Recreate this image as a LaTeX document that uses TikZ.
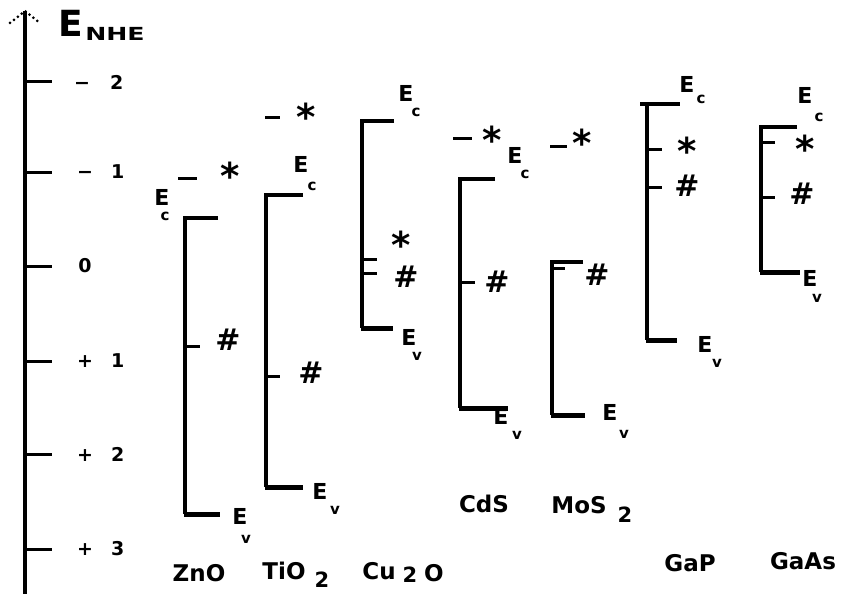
\documentclass[tikz,border=0pt]{standalone}
\usepackage{fontspec}
\setmainfont{DejaVu Sans}
\newcommand{\fsz}[1]{\fontsize{#1}{#1}\selectfont}
\tikzset{
  txt/.style={inner sep=0pt, font=\bfseries\fsz{22}},
  bigtxt/.style={txt, font=\bfseries\fsz{36}},
  ticklbl/.style={txt, font=\bfseries\fsz{19}},
  subtxt/.style={txt, font=\bfseries\fsz{15}},
  matname/.style={txt, font=\bfseries\fsz{23}},
  matsub/.style={txt, font=\bfseries\fsz{21}},
  startxt/.style={txt, font=\bfseries\fsz{37}},
  hashtxt/.style={txt, font=\bfseries\fsz{30}},
  axisline/.style={line width=3.5pt},
  bandline/.style={line width=3.3pt, line join=miter},
  evline/.style={line width=5pt},
  lvl/.style={line width=3pt},
  dotarrow/.style={line width=3pt, line cap=round, dash pattern=on 0pt off 5pt}
}
\begin{document}
\begin{tikzpicture}[x=1pt,y=-1pt]
\useasboundingbox (0,0) rectangle (841,594);
% axis
\coordinate (axb) at (25,594);
\coordinate (axt) at (25,11);
\coordinate (al) at (10,23);
\coordinate (ar) at (40,23);
\draw[axisline] (axb) -- (axt);
\draw[dotarrow] (al) -- (axt) -- (ar);
\node[bigtxt] (E) at (71,23) {E};
\node[txt, font=\bfseries\fsz{18}] (nhe) at (115,34) {\scalebox{1.4}[1]{NHE}};
% ticks
\foreach \n/\y in {m2/82, m1/172, z/266, p1/361, p2/454, p3/549}{
  \coordinate (t\n a) at (25,\y);
  \coordinate (t\n b) at (52,\y);
  \draw[lvl] (t\n a) -- (t\n b);
}
\node[ticklbl, anchor=west] (lm2) at (74,82) {−\kern 20pt 2};
\node[ticklbl, anchor=west] (lm1) at (77,172) {−\kern 18pt 1};
\node[ticklbl] (lz) at (85,266) {0};
\node[ticklbl, anchor=west] (lp1) at (77,361) {+\kern 18pt 1};
\node[ticklbl, anchor=west] (lp2) at (77,454) {+\kern 18pt 2};
\node[ticklbl, anchor=west] (lp3) at (77,549) {+\kern 18pt 3};

% ---------- ZnO
\coordinate (a1) at (218,218); \coordinate (a2) at (185,218);
\coordinate (a3) at (185,514); \coordinate (a4) at (220,514);
\coordinate (a5) at (184,514);
\draw[bandline] (a1) -- (a2) -- (a3);
\draw[evline] (a5) -- (a4);
\coordinate (ad1) at (178,178); \coordinate (ad2) at (197,178);
\draw[lvl] (ad1) -- (ad2);
\node[startxt] (as) at (230,176) {*};
\coordinate (ah1) at (185,346); \coordinate (ah2) at (200,346);
\draw[lvl] (ah1) -- (ah2);
\node[hashtxt] (ah) at (228,340) {\#};
\node[txt] (aEc) at (162,197) {E}; \node[subtxt] (aEcs) at (165,216) {c};
\node[txt] (aEv) at (240,516) {E}; \node[subtxt] (aEvs) at (246,539) {v};
\node[matname] (aname) at (199,573) {ZnO};

% ---------- TiO2
\coordinate (b1) at (303,195); \coordinate (b2) at (266,195);
\coordinate (b3) at (266,487); \coordinate (b4) at (303,487);
\coordinate (b5) at (265,487);
\draw[bandline] (b1) -- (b2) -- (b3);
\draw[evline] (b5) -- (b4);
\coordinate (bd1) at (265,117); \coordinate (bd2) at (280,117);
\draw[lvl] (bd1) -- (bd2);
\node[startxt] (bs) at (306,117) {*};
\coordinate (bh1) at (266,376); \coordinate (bh2) at (280,376);
\draw[lvl] (bh1) -- (bh2);
\node[hashtxt] (bh) at (311,373) {\#};
\node[txt] (bEc) at (301,164) {E}; \node[subtxt] (bEcs) at (312,186) {c};
\node[txt] (bEv) at (320,491) {E}; \node[subtxt] (bEvs) at (335,510) {v};
\node[matname] (bname) at (284,571) {TiO};
\node[matsub] (bname2) at (322,580) {2};

% ---------- Cu2O
\coordinate (c1) at (394,121); \coordinate (c2) at (362,121);
\coordinate (c3) at (362,328); \coordinate (c4) at (393,328);
\coordinate (c5) at (361,328);
\draw[bandline] (c1) -- (c2) -- (c3);
\draw[evline] (c5) -- (c4);
\coordinate (cs1) at (362,259); \coordinate (cs2) at (377,259);
\draw[lvl] (cs1) -- (cs2);
\node[startxt] (cs) at (401,245) {*};
\coordinate (ch1) at (362,273); \coordinate (ch2) at (377,273);
\draw[lvl] (ch1) -- (ch2);
\node[hashtxt] (ch) at (406,277) {\#};
\node[txt] (cEc) at (406,93) {E}; \node[subtxt] (cEcs) at (416,112) {c};
\node[txt] (cEv) at (409,337) {E}; \node[subtxt] (cEvs) at (417,356) {v};
\node[matname] (cname) at (379,571) {Cu};
\node[matsub] (cname2) at (410,575) {2};
\node[matname] (cname3) at (434,573) {O};

% ---------- CdS
\coordinate (d1) at (495,179); \coordinate (d2) at (460,179);
\coordinate (d3) at (460,408); \coordinate (d4) at (508,408);
\coordinate (d5) at (459,408);
\draw[bandline] (d1) -- (d2) -- (d3);
\draw[evline] (d5) -- (d4);
\coordinate (dd1) at (453,138); \coordinate (dd2) at (472,138);
\draw[lvl] (dd1) -- (dd2);
\node[startxt] (ds) at (492,140) {*};
\coordinate (dh1) at (460,282); \coordinate (dh2) at (475,282);
\draw[lvl] (dh1) -- (dh2);
\node[hashtxt] (dh) at (497,282) {\#};
\node[txt] (dEc) at (515,155) {E}; \node[subtxt] (dEcs) at (525,174) {c};
\node[txt] (dEv) at (501,416) {E}; \node[subtxt] (dEvs) at (517,435) {v};
\node[matname] (dname) at (484,504) {CdS};

% ---------- MoS2
\coordinate (e1) at (583,262); \coordinate (e2) at (552,262);
\coordinate (e3) at (552,415); \coordinate (e4) at (585,415);
\coordinate (e5) at (551,415);
\draw[bandline] (e1) -- (e2) -- (e3);
\draw[evline] (e5) -- (e4);
\coordinate (ed1) at (550,146); \coordinate (ed2) at (567,146);
\draw[lvl] (ed1) -- (ed2);
\node[startxt] (es) at (582,143) {*};
\coordinate (eh1) at (552,268); \coordinate (eh2) at (565,268);
\draw[lvl] (eh1) -- (eh2);
\node[hashtxt] (eh) at (597,275) {\#};
\node[txt] (eEv) at (610,412) {E}; \node[subtxt] (eEvs) at (624,434) {v};
\node[matname] (ename) at (579,505) {MoS};
\node[matsub] (ename2) at (625,515) {2};

% ---------- GaP
\coordinate (f1) at (680,104); \coordinate (f0) at (640,104);
\coordinate (f2) at (647,104);
\coordinate (f3) at (647,340); \coordinate (f4) at (677,340);
\coordinate (f5) at (646,340);
\draw[bandline] (f0) -- (f1);
\draw[bandline] (f2) -- (f3);
\draw[evline] (f5) -- (f4);
\coordinate (fs1) at (647,149); \coordinate (fs2) at (662,149);
\draw[lvl] (fs1) -- (fs2);
\node[startxt] (fs) at (687,151) {*};
\coordinate (fh1) at (647,187); \coordinate (fh2) at (662,187);
\draw[lvl] (fh1) -- (fh2);
\node[hashtxt] (fh) at (687,186) {\#};
\node[txt] (fEc) at (687,84) {E}; \node[subtxt] (fEcs) at (701,99) {c};
\node[txt] (fEv) at (705,344) {E}; \node[subtxt] (fEvs) at (717,363) {v};
\node[matname] (fname) at (690,563) {GaP};

% ---------- GaAs
\coordinate (g1) at (797,127); \coordinate (g2) at (761,127);
\coordinate (g3) at (761,272); \coordinate (g4) at (800,272);
\coordinate (g5) at (760,272);
\draw[bandline] (g1) -- (g2) -- (g3);
\draw[evline] (g5) -- (g4);
\coordinate (gs1) at (761,142); \coordinate (gs2) at (775,142);
\draw[lvl] (gs1) -- (gs2);
\node[startxt] (gs) at (805,149) {*};
\coordinate (gh1) at (761,197); \coordinate (gh2) at (775,197);
\draw[lvl] (gh1) -- (gh2);
\node[hashtxt] (gh) at (802,194) {\#};
\node[txt] (gEc) at (805,95) {E}; \node[subtxt] (gEcs) at (819,117) {c};
\node[txt] (gEv) at (810,278) {E}; \node[subtxt] (gEvs) at (817,298) {v};
\node[matname] (gname) at (803,561) {GaAs};
\end{tikzpicture}
\end{document}
